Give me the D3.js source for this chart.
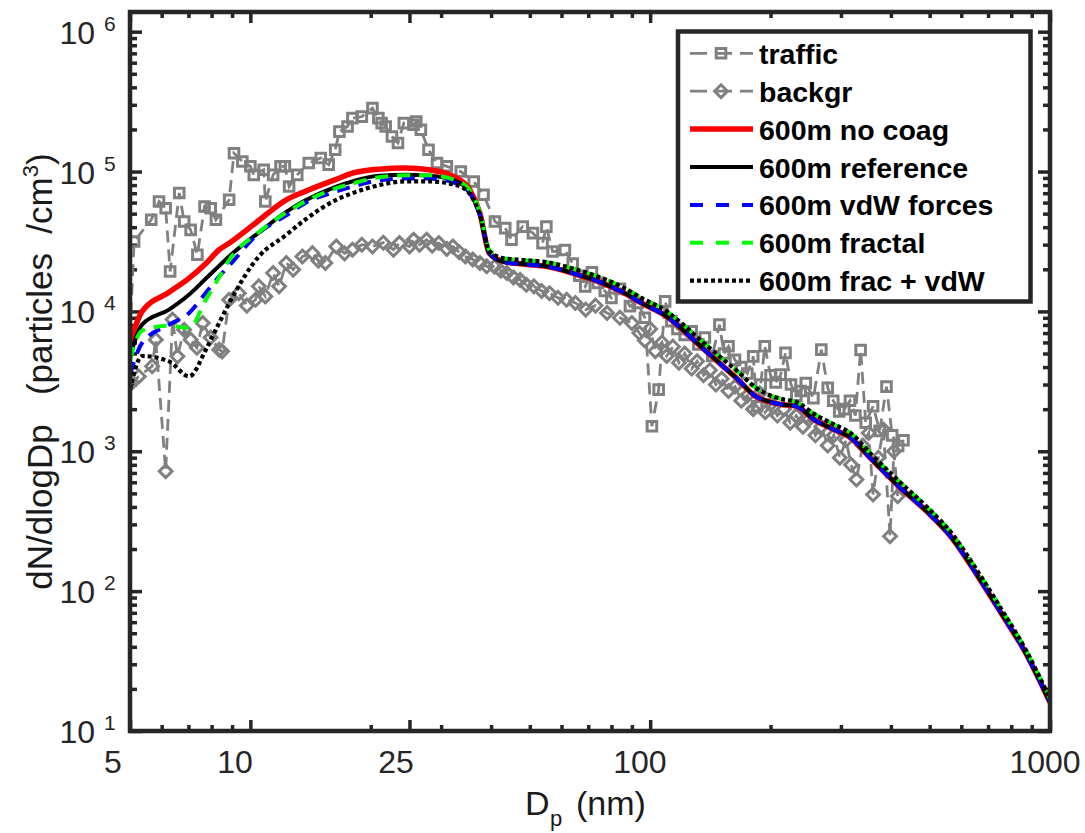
<!DOCTYPE html>
<html><head><meta charset="utf-8">
<script src="https://cdn.jsdelivr.net/npm/d3@7"></script>
<style>
body{margin:0;background:#fff;}
svg{display:block;font-family:"Liberation Sans",Arial,Helvetica,sans-serif;}
</style></head><body>
<svg id="chart" width="1085" height="833"></svg>
<script>
// ---------- data ----------
const trafficD = [5.0,5.12,5.65,5.91,6.14,6.3,6.64,6.83,7.09,7.37,7.68,7.96,8.2,8.85,9.1,9.55,10.0,10.2,10.8,10.9,11.4,11.9,12.2,12.5,13.1,14.0,15.0,15.7,16.3,16.7,17.5,18.0,19.0,20.2,20.9,21.3,21.8,22.6,23.4,24.2,25.6,26.0,26.7,27.9,29.3,31.0,33.6,36.2,38.3,40.9,43.4,45.0,48.0,50.9,53.8,55.0,57.0,61.2,64,66.5,68.8,71.5,74,77,80,84,89,93,97,101,105,109,113,117,122,127,132,137,143,149,153,157,163,169,175,181,185,189,193.5,200,206,212,218,225,232,238,245,256,268,278,287,297,306,316,326,336,346,361,375,390,403,417,430];
const trafficN = [7000,31600,45200,61100,54700,19300,70200,43900,38300,25400,56200,54700,45200,62800,135000,118000,109000,94700,103000,61100,94700,109000,109000,78200,94700,115000,125000,112000,143000,193000,210000,241000,247000,284000,241000,222000,210000,178000,160000,222000,216000,228000,199000,143000,115000,109000,100000,84900,68200,43900,39400,32500,40400,36300,30800,40400,26800,27500,22000,18000,15100,19000,16000,14000,12500,14500,10900,11500,9000,1510,2760,11800,8500,7500,6800,7200,5800,6500,4800,8040,5000,5630,4500,4000,3600,4770,2100,3000,5630,3500,3100,3530,5050,3000,2500,2700,3080,2400,5330,2840,2300,1930,2000,2300,1800,5300,1600,2100,1400,2900,1300,1090,1200];

const backgrD = [5.0,5.26,5.68,5.80,6.14,6.39,6.57,6.83,7.09,7.35,7.6,7.95,8.36,8.5,8.85,9.36,9.8,10.3,10.5,10.9,11.4,11.8,12.3,12.8,13.5,14.3,14.8,15.4,16.4,17.2,18.0,19.0,20.2,21.5,22.8,23.6,25.0,25.6,26.5,27.6,28.5,29.6,31,32.1,33.3,34.5,36,37.5,39,40.8,42.3,43.8,45.5,47.3,49,51.2,53.5,56,58.8,61.8,65,69,73,78,84,90,94,97,100,103,107,110,114,118,122,127,131,136,141,146,151,157,163,169,175,181,188,194,201,208,216,224,232,241,250,259,268,278,288,298,309,318,328,340,352,361,372,383,398,407,416];
const backgrN = [3000,3430,4050,6280,720,8740,4770,7390,6280,5500,8260,6500,5330,5180,12100,13500,11000,12100,15100,12800,18800,15100,22200,19900,24700,26100,23000,22200,29100,26000,27600,30000,29100,31000,27600,30800,29100,32500,30000,32500,29500,30800,28000,29100,26500,24700,23500,22200,21000,20900,19500,18800,17500,16800,15500,15100,14000,13500,12500,12100,11500,10300,11000,9740,9000,8260,7000,6200,7500,5200,6000,4800,5600,4300,5000,3900,4400,3500,3800,3000,3300,2700,2900,2300,2500,2000,2600,1900,2200,1800,2000,1600,1800,1500,1700,1300,1500,1100,1300,900,1200,800,628,1100,1350,491,900,1430,247,1000,477];

const modelD = [5,5.36,6.26,7.03,7.74,8.36,8.86,10.5,12.3,13.7,16.4,18,21,24.4,28,32.8,35.4,37.5,39.6,42.9,48,55,65,75,85,95,110,120,133,150,165,183.6,200,215,232,257,285,317,360,419,490,564,660,754,870,1000];
const noCoagN = [5950,10000,13700,17300,22000,27600,30800,44700,62800,72000,88000,97300,104000,106000,103000,89700,74000,50400,26100,22800,21800,21000,18500,16200,13800,11500,9200,7500,5700,4200,3300,2470,2250,2150,2100,1685,1450,1250,860,560,375,247,128,70,36,16];
const referenceN = [4770,8040,10300,13200,17200,21200,24800,36600,51500,62000,78000,85000,93500,94700,93500,85000,71000,49500,26000,22600,21800,21000,18500,16200,13800,11500,9200,7500,5700,4200,3300,2470,2250,2150,2100,1685,1450,1250,860,560,375,247,128,70,36,16];
const vdwN = [3530,5950,8040,9740,13600,17800,21300,36300,48600,59400,72000,78000,86500,89000,89000,82000,70000,49000,26500,22500,21800,21000,18500,16200,13800,11500,9200,7500,5700,4200,3300,2470,2250,2150,2100,1685,1450,1250,860,560,375,247,128,70,36,16];
const fractalN = [4520,7300,7900,7610,12100,17600,23400,36800,51000,61000,76000,82000,91000,94000,94000,86000,73000,51000,27500,24000,23300,22500,20000,17500,15000,12500,10000,8200,6300,4700,3750,2850,2500,2350,2250,1850,1580,1350,930,610,405,265,138,75,38,17];
const fracVdwN = [2760,4800,4390,3430,5330,8300,11500,24700,35300,45200,62800,70000,80000,84900,85000,80000,69000,49000,27000,24000,23300,22500,20000,17500,15000,12500,10000,8200,6300,4700,3750,2850,2500,2350,2250,1850,1580,1350,930,610,405,265,138,75,38,17];

const legendLabels = ["traffic","backgr","600m no coag","600m reference","600m vdW forces","600m fractal","600m frac + vdW"];
const xTickValues = [5,10,25,100,1000];
const xTickLabels = ["5","10","25","100","1000"];
const xMinorValues = [6,7,8,9,20,30,40,50,60,70,80,90,200,300,400,500,600,700,800,900];
const yTickValues = [1e1,1e2,1e3,1e4,1e5,1e6];
const yTickExponents = ["1","2","3","4","5","6"];

// ---------- layout ----------
const L = 130, R = 1050, T = 12, B = 731;
const AX = "#262626";
const GRAY = "#808080";
const svg = d3.select("#chart");

const x = d3.scaleLog().domain([5, 1000]).range([L, R]);
const y = d3.scaleLog().domain([10, Math.pow(10, 6.1407)]).range([B, T]);
const xLabelPos = d3.scaleLog().domain([5, 1000]).range([113, 1045]);

svg.append("defs").append("clipPath").attr("id","clip")
  .append("rect").attr("x",L).attr("y",T).attr("width",R-L).attr("height",B-T);

const yMinorValues = [];
[10,100,1000,10000,100000].forEach(d => { for (let m=2;m<=9;m++) yMinorValues.push(d*m); });

function styleAxis(g, w){
  g.select(".domain").remove();
  g.selectAll(".tick line").attr("stroke", AX).attr("stroke-width", w);
}
svg.append("g").attr("transform",`translate(0,${B})`)
  .call(d3.axisBottom(x).tickValues(xTickValues).tickSize(-11).tickFormat("")).call(g=>styleAxis(g,3.5));
svg.append("g").attr("transform",`translate(0,${B})`)
  .call(d3.axisBottom(x).tickValues(xMinorValues).tickSize(-6).tickFormat("")).call(g=>styleAxis(g,3.5));
svg.append("g").attr("transform",`translate(0,${T})`)
  .call(d3.axisTop(x).tickValues(xTickValues).tickSize(-11).tickFormat("")).call(g=>styleAxis(g,3.5));
svg.append("g").attr("transform",`translate(0,${T})`)
  .call(d3.axisTop(x).tickValues(xMinorValues).tickSize(-6).tickFormat("")).call(g=>styleAxis(g,3.5));
svg.append("g").attr("transform",`translate(${L},0)`)
  .call(d3.axisLeft(y).tickValues(yTickValues).tickSize(-12).tickFormat("")).call(g=>styleAxis(g,3.5));
svg.append("g").attr("transform",`translate(${L},0)`)
  .call(d3.axisLeft(y).tickValues(yMinorValues).tickSize(-7).tickFormat("")).call(g=>styleAxis(g,3.5));
svg.append("g").attr("transform",`translate(${R},0)`)
  .call(d3.axisRight(y).tickValues(yTickValues).tickSize(-12).tickFormat("")).call(g=>styleAxis(g,3.5));
svg.append("g").attr("transform",`translate(${R},0)`)
  .call(d3.axisRight(y).tickValues(yMinorValues).tickSize(-7).tickFormat("")).call(g=>styleAxis(g,3.5));

// ---------- data series ----------
const plot = svg.append("g").attr("clip-path","url(#clip)");
const line = d3.line().x(d=>x(d[0])).y(d=>y(d[1]));
const smooth = d3.line().x(d=>x(d[0])).y(d=>y(d[1])).curve(d3.curveMonotoneX);

const traffic = trafficD.map((d,i)=>[d, trafficN[i]]);
const backgr = backgrD.map((d,i)=>[d, backgrN[i]]);

function squarePath(s){ return `M${-s},${-s}H${s}V${s}H${-s}Z`; }
function diamondPath(s){ return `M0,${-s}L${s},0L0,${s}L${-s},0Z`; }

plot.append("path").datum(traffic).attr("d",line).attr("fill","none")
  .attr("stroke",GRAY).attr("stroke-width",2.8).attr("stroke-dasharray","12,7");
plot.append("g").selectAll("path").data(traffic).join("path")
  .attr("transform",d=>`translate(${x(d[0])},${y(d[1])})`).attr("d",squarePath(4.8))
  .attr("fill","none").attr("stroke",GRAY).attr("stroke-width",3);

plot.append("path").datum(backgr).attr("d",line).attr("fill","none")
  .attr("stroke",GRAY).attr("stroke-width",2.8).attr("stroke-dasharray","12,7");
plot.append("g").selectAll("path").data(backgr).join("path")
  .attr("transform",d=>`translate(${x(d[0])},${y(d[1])})`).attr("d",diamondPath(6.4))
  .attr("fill","none").attr("stroke",GRAY).attr("stroke-width",3);

const models = [
  {vals:noCoagN, color:"#ff0000", w:5.5, dash:null},
  {vals:referenceN, color:"#000000", w:4, dash:null},
  {vals:vdwN, color:"#0000ff", w:4, dash:"13,9"},
  {vals:fractalN, color:"#00ff00", w:4, dash:"13,9"},
  {vals:fracVdwN, color:"#000000", w:4.2, dash:"4,3"}
];
models.forEach(m=>{
  plot.append("path").datum(modelD.map((d,i)=>[d,m.vals[i]])).attr("d",smooth)
    .attr("fill","none").attr("stroke",m.color).attr("stroke-width",m.w)
    .attr("stroke-dasharray",m.dash).attr("stroke-linejoin","round");
});

svg.append("rect").attr("x",L).attr("y",T).attr("width",R-L).attr("height",B-T)
  .attr("fill","none").attr("stroke",AX).attr("stroke-width",4.5);

// ---------- tick labels ----------
svg.append("g").selectAll("text").data(xTickValues).join("text")
  .attr("x",d=>xLabelPos(d)).attr("y",773).attr("text-anchor","middle")
  .attr("font-size",32).attr("fill",AX).text((d,i)=>xTickLabels[i]);

const yl = svg.append("g").selectAll("g").data(yTickValues).join("g");
yl.append("text").attr("x",95).attr("y",d=>y(d)+12).attr("text-anchor","end")
  .attr("font-size",32).attr("fill",AX).text("10");
yl.append("text").attr("x",104).attr("y",d=>y(d)-1)
  .attr("font-size",21).attr("fill",AX).text((d,i)=>yTickExponents[i]);

// ---------- axis titles ----------
const xt = svg.append("g").attr("transform","translate(584,815)").attr("fill","#1a1a1a");
xt.append("text").attr("x",-59).attr("y",0).attr("font-size",34).text("D");
xt.append("text").attr("x",-34).attr("y",11).attr("font-size",22).text("p");
xt.append("text").attr("x",-8).attr("y",0).attr("font-size",34).text("(nm)");

const ytg = svg.append("text").attr("transform","translate(52,371.5) rotate(-90)")
  .attr("text-anchor","middle").attr("font-size",35).attr("fill","#1a1a1a")
  .style("white-space","pre");
ytg.append("tspan").text("dN/dlogDp   (particles  /cm");
ytg.append("tspan").attr("font-size",22).attr("dy",-14).text("3");
ytg.append("tspan").attr("dy",14).text(")");

// ---------- legend ----------
const lg = svg.append("g");
lg.append("rect").attr("x",678).attr("y",31.5).attr("width",352.5).attr("height",270)
  .attr("fill","#fff").attr("stroke",AX).attr("stroke-width",4.5);
const rowY = d3.scalePoint().domain(legendLabels).range([53.3, 280.7]);
const legendStyles = [
  {color:GRAY,w:2.8,dash:"17,8",marker:"square"},
  {color:GRAY,w:2.8,dash:"17,8",marker:"diamond"},
  {color:"#ff0000",w:5.5,dash:null},
  {color:"#000000",w:4,dash:null},
  {color:"#0000ff",w:4,dash:"13,13"},
  {color:"#00ff00",w:4,dash:"13,13"},
  {color:"#000000",w:4.2,dash:"4,3"}
];
legendLabels.forEach((lab,i)=>{
  const s = legendStyles[i], yy = rowY(lab);
  lg.append("line").attr("x1",690).attr("x2",753).attr("y1",yy).attr("y2",yy)
    .attr("stroke",s.color).attr("stroke-width",s.w).attr("stroke-dasharray",s.dash);
  if (s.marker==="square") lg.append("path").attr("transform",`translate(721,${yy})`)
    .attr("d",squarePath(4.8)).attr("fill","none").attr("stroke",GRAY).attr("stroke-width",3);
  if (s.marker==="diamond") lg.append("path").attr("transform",`translate(721,${yy})`)
    .attr("d",diamondPath(6.4)).attr("fill","none").attr("stroke",GRAY).attr("stroke-width",3);
  lg.append("text").attr("x",759).attr("y",yy+10.5).attr("font-size",28.5)
    .attr("font-weight","bold").attr("fill","#000").text(lab);
});
</script>
</body></html>
